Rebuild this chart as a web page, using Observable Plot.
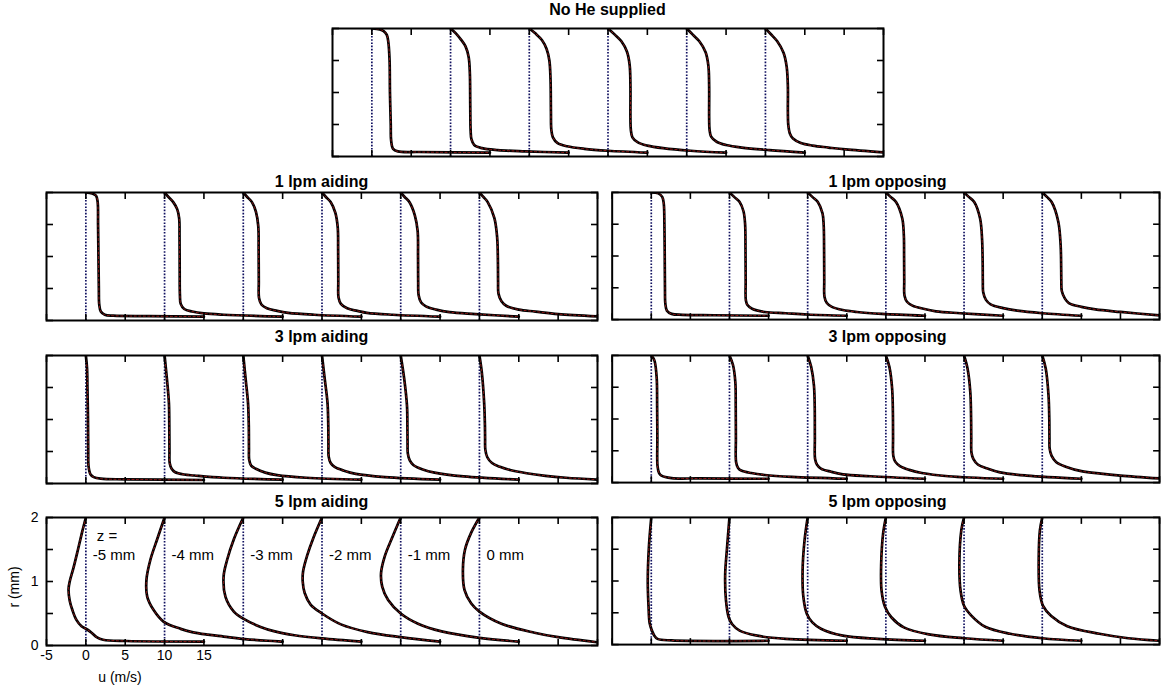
<!DOCTYPE html>
<html>
<head>
<meta charset="utf-8">
<script src="https://cdn.jsdelivr.net/npm/d3@7"></script>
<script src="https://cdn.jsdelivr.net/npm/@observablehq/plot@0.6"></script>
<style>
  html, body { margin: 0; padding: 0; background: #fff; }
  #root { position: relative; width: 1169px; height: 687px; font-family: "Liberation Sans", Arial, sans-serif; color: #000; }
  .ttl { position: absolute; font-weight: bold; font-size: 16px; transform: translate(-50%, -50%); white-space: nowrap; }
  .lbl { position: absolute; font-size: 14px; white-space: nowrap; transform: translate(-50%, -50%); }
  .pn { position: absolute; }
</style>
</head>
<body>
<div id="root"></div>
<script>
// ---------- data ----------
const offsets = [0, 10, 20, 30, 40, 50];           // z = -5 .. 0 mm profiles, shifted by 10 m/s
const zLabels = ["-5 mm", "-4 mm", "-3 mm", "-2 mm", "-1 mm", "0 mm"];
const xTickValues = [-5, 0, 5, 10, 15, 20, 25, 30, 35, 40, 45, 50, 55, 60, 65];
const xTickLabelled = [-5, 0, 5, 10, 15];
const yTickValues = [0, 0.5, 1, 1.5, 2];
const yTickLabelled = [0, 1, 2];
const panelTitles = ["No He supplied", "1 lpm aiding", "1 lpm opposing", "3 lpm aiding", "3 lpm opposing", "5 lpm aiding", "5 lpm opposing"];

// each profile: [u (m/s) relative to its offset, r (mm)]
const noHe = [
  [[0,2],[1.0,1.985],[1.5,1.96],[1.9,1.9],[2.1,1.78],[2.25,1.5],[2.3,1.0],[2.4,0.5],[2.45,0.25],[2.7,0.12],[3.3,0.08],[6,0.07],[15,0.06]],
  [[0,2],[0.7,1.92],[1.3,1.83],[1.9,1.72],[2.3,1.55],[2.45,1.3],[2.5,0.8],[2.55,0.4],[2.65,0.27],[3.0,0.18],[4,0.13],[6,0.1],[9.5,0.08],[15,0.06]],
  [[0,2],[0.8,1.92],[1.6,1.82],[2.2,1.68],[2.55,1.5],[2.7,1.2],[2.75,0.7],[2.8,0.42],[3.0,0.3],[3.6,0.21],[4.8,0.16],[7,0.12],[10,0.09],[15,0.06]],
  [[0,2],[0.9,1.9],[1.7,1.8],[2.4,1.64],[2.75,1.43],[2.85,1.1],[2.85,0.6],[2.9,0.42],[3.1,0.3],[3.8,0.22],[5,0.17],[7,0.13],[10.5,0.09],[15,0.06]],
  [[0,2],[0.8,1.9],[1.6,1.8],[2.4,1.63],[2.75,1.42],[2.85,1.1],[2.85,0.6],[2.9,0.42],[3.1,0.31],[3.8,0.23],[5,0.18],[7,0.14],[10.5,0.1],[15,0.06]],
  [[0,2],[0.7,1.91],[1.5,1.8],[2.3,1.62],[2.7,1.4],[2.85,1.1],[2.85,0.7],[2.9,0.5],[3.1,0.36],[3.5,0.28],[4.5,0.21],[6,0.17],[8,0.14],[10.2,0.11],[15,0.065]]
];
const aiding1 = [
  [[0,2],[0.8,1.985],[1.3,1.95],[1.5,1.85],[1.55,1.5],[1.6,1.0],[1.65,0.5],[1.7,0.25],[1.9,0.14],[2.4,0.09],[3.5,0.075],[8,0.068],[15,0.06]],
  [[0,2],[0.5,1.93],[1.1,1.85],[1.6,1.74],[1.85,1.6],[1.9,1.3],[1.92,0.8],[1.95,0.4],[2.05,0.26],[2.5,0.18],[3.5,0.14],[5,0.11],[7.5,0.09],[15,0.06]],
  [[0,2],[0.5,1.93],[1.1,1.85],[1.6,1.7],[1.9,1.48],[1.95,1.1],[1.97,0.6],[2.0,0.35],[2.3,0.25],[3,0.19],[4.3,0.15],[5.7,0.12],[9,0.09],[15,0.06]],
  [[0,2],[0.5,1.93],[1.1,1.85],[1.7,1.68],[2.0,1.45],[2.05,1.1],[2.07,0.6],[2.1,0.36],[2.4,0.26],[3.2,0.19],[4.5,0.15],[5.7,0.12],[9,0.09],[15,0.06]],
  [[0,2],[0.5,1.93],[1.1,1.85],[1.8,1.64],[2.15,1.4],[2.2,1.0],[2.22,0.6],[2.27,0.4],[2.6,0.28],[3.2,0.22],[4.5,0.17],[6.2,0.13],[9.5,0.1],[15,0.06]],
  [[0,2],[0.5,1.93],[1.05,1.85],[1.9,1.6],[2.25,1.3],[2.35,0.9],[2.37,0.6],[2.42,0.42],[2.8,0.3],[3.4,0.23],[5,0.17],[7.1,0.14],[10,0.1],[15,0.065]]
];
const opposing1 = [
  [[0,2],[0.9,1.985],[1.4,1.93],[1.6,1.82],[1.68,1.5],[1.72,1.0],[1.75,0.5],[1.8,0.25],[2.0,0.14],[2.6,0.09],[4,0.075],[8,0.068],[15,0.06]],
  [[0,2],[0.6,1.93],[1.3,1.85],[1.8,1.7],[2.0,1.5],[2.05,1.1],[2.07,0.6],[2.1,0.3],[2.3,0.23],[2.9,0.17],[4.5,0.12],[7.2,0.1],[10,0.08],[15,0.06]],
  [[0,2],[0.6,1.93],[1.3,1.85],[1.9,1.67],[2.05,1.48],[2.1,1.1],[2.12,0.6],[2.15,0.36],[2.45,0.26],[3.1,0.2],[4.5,0.15],[6.3,0.12],[9.5,0.09],[15,0.06]],
  [[0,2],[0.6,1.93],[1.3,1.85],[2.1,1.59],[2.3,1.32],[2.33,1.0],[2.35,0.6],[2.38,0.38],[2.7,0.28],[3.4,0.22],[4.8,0.17],[6.4,0.13],[9.5,0.1],[15,0.06]],
  [[0,2],[0.6,1.93],[1.3,1.85],[2.05,1.59],[2.3,1.27],[2.38,0.9],[2.4,0.6],[2.45,0.43],[2.8,0.31],[3.4,0.24],[5,0.18],[6.8,0.14],[10,0.1],[15,0.06]],
  [[0,2],[0.6,1.93],[1.2,1.85],[2.05,1.54],[2.35,1.17],[2.42,0.8],[2.44,0.6],[2.5,0.45],[2.9,0.33],[3.4,0.26],[5,0.2],[6.8,0.16],[10,0.12],[15,0.065]]
];
const aiding3 = [
  [[0,2],[0.15,1.8],[0.2,1.5],[0.27,1.0],[0.3,0.5],[0.35,0.26],[0.6,0.14],[1.0,0.1],[1.9,0.075],[5,0.065],[15,0.055]],
  [[0,2],[0.3,1.63],[0.55,1.26],[0.6,0.9],[0.62,0.5],[0.65,0.32],[0.9,0.23],[1.3,0.18],[2.5,0.14],[3.8,0.125],[7.5,0.09],[15,0.06]],
  [[0,2],[0.3,1.63],[0.6,1.26],[0.7,0.9],[0.72,0.55],[0.75,0.37],[1.0,0.28],[1.6,0.23],[2.8,0.17],[4.3,0.13],[8,0.09],[15,0.06]],
  [[0,2],[0.35,1.63],[0.7,1.26],[0.8,0.9],[0.82,0.6],[0.85,0.42],[1.1,0.32],[1.6,0.26],[2.8,0.2],[4.3,0.15],[8,0.1],[15,0.06]],
  [[0,2],[0.45,1.63],[0.8,1.21],[0.85,0.9],[0.87,0.6],[0.9,0.47],[1.15,0.36],[1.6,0.29],[2.8,0.22],[4.3,0.17],[8,0.11],[15,0.06]],
  [[0,2],[0.3,1.74],[0.6,1.26],[0.7,0.9],[0.72,0.7],[0.75,0.53],[1.0,0.41],[1.6,0.32],[2.6,0.26],[3.9,0.21],[6,0.16],[8.4,0.12],[11,0.09],[15,0.06]]
];
const opposing3 = [
  [[0,2],[0.3,1.95],[0.45,1.9],[0.7,1.63],[0.75,1.2],[0.78,0.7],[0.8,0.26],[1.0,0.15],[1.3,0.11],[2.6,0.07],[6,0.065],[15,0.06]],
  [[0,2],[0.45,1.85],[0.75,1.58],[0.8,1.2],[0.82,0.7],[0.85,0.32],[1.1,0.23],[1.5,0.19],[2.8,0.15],[4.5,0.12],[8,0.09],[15,0.06]],
  [[0,2],[0.45,1.82],[0.8,1.53],[0.9,1.2],[0.92,0.7],[0.95,0.37],[1.2,0.28],[1.7,0.22],[3,0.17],[4.5,0.13],[8,0.1],[15,0.06]],
  [[0,2],[0.45,1.82],[0.8,1.48],[0.9,1.1],[0.92,0.7],[0.95,0.42],[1.2,0.33],[1.8,0.26],[3,0.2],[4.6,0.15],[8,0.1],[15,0.06]],
  [[0,2],[0.45,1.79],[0.8,1.42],[0.9,1.0],[0.92,0.7],[0.95,0.47],[1.2,0.37],[1.8,0.28],[3,0.22],[4.6,0.16],[8,0.11],[15,0.06]],
  [[0,2],[0.45,1.79],[0.8,1.37],[0.9,1.0],[0.92,0.7],[0.95,0.53],[1.2,0.42],[1.8,0.32],[3,0.25],[5,0.18],[7.5,0.14],[10,0.11],[15,0.065]]
];
const aiding5 = [
  [[0,2],[-0.5,1.76],[-1.0,1.5],[-1.6,1.2],[-2.05,1.0],[-2.2,0.88],[-2.05,0.7],[-1.7,0.55],[-1.2,0.4],[-0.55,0.3],[0.17,0.25],[0.73,0.2],[1.37,0.13],[2.2,0.09],[5.2,0.07],[15,0.06]],
  [[0,2],[-0.94,1.66],[-1.8,1.34],[-2.3,1.03],[-2.2,0.76],[-1.37,0.55],[-0.1,0.37],[2.05,0.26],[3.5,0.21],[5.5,0.17],[7.5,0.14],[10.2,0.1],[15,0.06]],
  [[0,2],[-1.2,1.66],[-2.05,1.34],[-2.5,1.08],[-2.26,0.76],[-1.2,0.53],[0,0.42],[2.2,0.29],[4,0.22],[6.5,0.16],[10,0.11],[15,0.06]],
  [[0,2],[-1.1,1.68],[-1.9,1.4],[-2.4,1.16],[-2.45,1.0],[-2.2,0.82],[-1.45,0.64],[0,0.5],[2.4,0.33],[5.8,0.21],[10,0.13],[15,0.06]],
  [[0,2],[-1.0,1.71],[-2.04,1.39],[-2.5,1.13],[-2.35,0.92],[-1.6,0.71],[0,0.5],[2.2,0.34],[5.2,0.22],[10,0.12],[15,0.06]],
  [[0,2],[-1.06,1.76],[-1.83,1.5],[-2.1,1.18],[-1.9,0.87],[-1.06,0.66],[0,0.53],[2.8,0.34],[7,0.2],[10,0.13],[15,0.05]]
];
const opposing5 = [
  [[0,2],[-0.3,1.54],[-0.45,1.0],[-0.35,0.6],[-0.2,0.33],[0.15,0.2],[0.4,0.14],[0.8,0.09],[2.6,0.065],[15,0.06]],
  [[0,2],[-0.3,1.54],[-0.55,1.1],[-0.45,0.7],[-0.1,0.43],[0.35,0.32],[1.3,0.22],[3.55,0.14],[7.2,0.09],[15,0.06]],
  [[0,2],[-0.4,1.64],[-0.65,1.16],[-0.55,0.75],[-0.1,0.48],[0.6,0.35],[1.7,0.25],[4.5,0.14],[9,0.09],[15,0.06]],
  [[0,2],[-0.35,1.75],[-0.6,1.27],[-0.55,0.85],[-0.1,0.59],[0.7,0.43],[2.3,0.27],[5.5,0.16],[10,0.1],[15,0.06]],
  [[0,2],[-0.35,1.8],[-0.6,1.27],[-0.45,0.85],[0,0.61],[0.9,0.46],[2.7,0.28],[5.9,0.17],[10,0.1],[15,0.06]],
  [[0,2],[-0.3,1.8],[-0.45,1.37],[-0.35,0.85],[0.1,0.61],[1.15,0.45],[3.2,0.29],[7.3,0.17],[11,0.1],[15,0.06]]
];

// ---------- layout ----------
const FW = 551, FH = 128;
const ML = 50, MR = 10, MT = 10, MB = 45;
const FONT = '"Liberation Sans", Arial, sans-serif';
const root = document.getElementById("root");
const blank = () => "";

function panel(profiles, opts = {}) {
  const rows = profiles.flatMap((p, i) => p.map(([u, r]) => ({u: u + offsets[i], r, z: zLabels[i]})));
  const labelled = !!opts.labelled;
  const marks = [
    Plot.ruleX(offsets, {y1: yTickValues[0], y2: yTickValues[yTickValues.length - 1], stroke: "#101060", strokeWidth: 1.7, strokeDasharray: "1.6,1.6"}),
    Plot.line(rows, {x: "u", y: "r", z: "z", curve: "catmull-rom", stroke: "#000", strokeWidth: 2.7, clip: true}),
    Plot.line(rows, {x: "u", y: "r", z: "z", curve: "catmull-rom", stroke: "#a01818", strokeWidth: 0.9, strokeDasharray: "2,2.5", clip: true}),
    Plot.axisX(xTickValues, {anchor: "bottom", tickSize: -6, strokeWidth: 1.6, tickFormat: blank, label: null}),
    Plot.axisX(xTickValues, {anchor: "top", tickSize: -6, strokeWidth: 1.6, tickFormat: blank, label: null}),
    Plot.axisY(yTickValues, {anchor: "left", tickSize: -7, strokeWidth: 1.6, tickFormat: blank, label: null}),
    Plot.axisY(yTickValues, {anchor: "right", tickSize: -7, strokeWidth: 1.6, tickFormat: blank, label: null}),
    Plot.frame({stroke: "#000", strokeWidth: 2})
  ];
  if (labelled) {
    marks.push(
      Plot.axisX(xTickLabelled, {anchor: "bottom", tickSize: 0, tickPadding: 5, fontSize: 14, tickFormat: d => String(d), label: null}),
      Plot.axisY(yTickLabelled, {anchor: "left", tickSize: 0, tickPadding: 8, fontSize: 14, tickFormat: d => String(d), label: null}),
      Plot.text(zLabels, {x: (d, i) => offsets[i], frameAnchor: "top", dy: 32, dx: 7, text: d => d, textAnchor: "start", fontSize: 15}),
      Plot.text(["z ="], {x: () => offsets[0], frameAnchor: "top", dy: 13, dx: 11, text: d => d, textAnchor: "start", fontSize: 15})
    );
  }
  return Plot.plot({
    width: FW + ML + MR, height: FH + MT + MB,
    marginLeft: ML, marginRight: MR, marginTop: MT, marginBottom: MB,
    x: {domain: [-5, 65], axis: null, label: null},
    y: {domain: [0, 2], axis: null, label: null},
    style: {fontFamily: FONT, fontSize: "14px", color: "#000", background: "transparent", overflow: "visible"},
    marks
  });
}

function place(el, frameLeft, frameTop) {
  const d = document.createElement("div");
  d.className = "pn";
  d.style.left = (frameLeft - ML) + "px";
  d.style.top = (frameTop - MT) + "px";
  d.appendChild(el);
  root.appendChild(d);
}
function text(cls, s, x, y, extra) {
  const d = document.createElement("div");
  d.className = cls;
  d.textContent = s;
  d.style.left = x + "px";
  d.style.top = y + "px";
  if (extra) Object.assign(d.style, extra);
  root.appendChild(d);
}

const LX = 46, RX = 612, TX = 332;
const rowsY = [28, 192, 355, 517];

place(panel(noHe), TX, rowsY[0]);
place(panel(aiding1), LX, rowsY[1]);
place(panel(opposing1), RX, rowsY[1]);
place(panel(aiding3), LX, rowsY[2]);
place(panel(opposing3), RX, rowsY[2]);
place(panel(aiding5, {labelled: true}), LX, rowsY[3]);
place(panel(opposing5), RX, rowsY[3]);

text("ttl", panelTitles[0], TX + FW / 2, 10);
text("ttl", panelTitles[1], LX + FW / 2, 182);
text("ttl", panelTitles[2], RX + FW / 2, 182);
text("ttl", panelTitles[3], LX + FW / 2, 337);
text("ttl", panelTitles[4], RX + FW / 2, 337);
text("ttl", panelTitles[5], LX + FW / 2, 502);
text("ttl", panelTitles[6], RX + FW / 2, 502);

text("lbl", "u (m/s)", 120, 677);
text("lbl", "r (mm)", 14, 587, {transform: "translate(-50%, -50%) rotate(-90deg)"});
</script>
</body>
</html>
